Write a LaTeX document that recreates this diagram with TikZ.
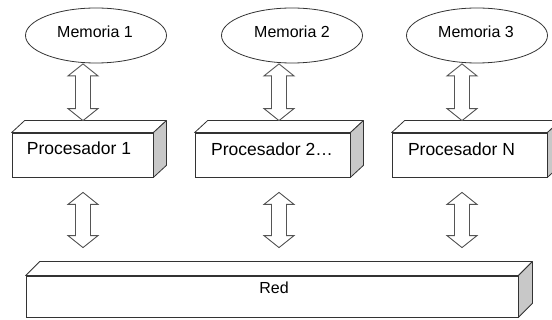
\documentclass[tikz,border=0pt]{standalone}
\usepackage{fontspec}
\setmainfont{Liberation Sans}
\usetikzlibrary{shapes.geometric,calc}
\definecolor{edge}{HTML}{333333}
\definecolor{sideface}{HTML}{C8C8C8}
\definecolor{arrowline}{HTML}{555555}
\tikzset{
  mem/.style={ellipse, draw=edge, line width=0.8pt, minimum width=141pt, minimum height=55pt, inner sep=0pt},
  front/.style={rectangle, draw=edge, fill=white, line width=0.8pt, inner sep=0pt, minimum height=44pt},
  topface/.style={draw=edge, fill=white, line width=0.8pt, line join=round},
  sidefill/.style={draw=edge, fill=sideface, line width=0.8pt, line join=round},
  memtext/.style={inner sep=0pt, font=\fontsize{16}{18}\selectfont},
  proctext/.style={inner sep=0pt, font=\fontsize{17.5}{20}\selectfont},
  biarrow/.style={draw=arrowline, fill=white, line width=0.9pt, line join=miter},
}
% top and right faces of a box whose front face is node #1, depth (#2,#3)
\newcommand\cubefaces[3]{%
  \draw[topface] (#1.north west) -- ++(#2,#3) -- ($(#1.north east)+(#2,#3)$) -- (#1.north east) -- cycle;
  \draw[sidefill] (#1.north east) -- ++(#2,#3) -- ($(#1.south east)+(#2,#3)$) -- (#1.south east) -- cycle;
}
% hollow double-headed block arrow from #1 (upper tip) down to the height of #2
\newcommand\dblarrow[2]{%
  \draw[biarrow] let \p1=(#1), \p2=(#2) in
    (\x1,\y1) -- (\x1+15pt,\y1-12pt) -- (\x1+7.5pt,\y1-12pt) -- (\x1+7.5pt,\y2+12pt)
    -- (\x1+15pt,\y2+12pt) -- (\x1,\y2) -- (\x1-15pt,\y2+12pt) -- (\x1-7.5pt,\y2+12pt)
    -- (\x1-7.5pt,\y1-12pt) -- (\x1-15pt,\y1-12pt) -- cycle;
}
\begin{document}
\begin{tikzpicture}[x=1pt,y=-1pt]
  \useasboundingbox (0,0) rectangle (552,320);

  % memories
  \node[mem] (m1) at (96,35.5) {};
  \node[mem] (m2) at (292,35.5) {};
  \node[mem] (m3) at (477,35.5) {};
  \node[memtext] (m1t) at (95,31.5) {Memoria 1};
  \node[memtext] (m2t) at (292,31.5) {Memoria 2};
  \node[memtext] (m3t) at (476,31.5) {Memoria 3};

  % processors
  \node[front, minimum width=141pt] (p1) at (82.5,155) {};
  \cubefaces{p1}{13}{-12}
  \node[front, minimum width=155pt] (p2) at (272.5,155) {};
  \cubefaces{p2}{13}{-12}
  \node[front, minimum width=155pt] (pn) at (469.5,155) {};
  \cubefaces{pn}{13}{-12}
  \node[proctext] (p1t) at (79,148.5) {Procesador 1};
  \node[proctext] (p2t) at (272,149) {Procesador 2\ldots};
  \node[proctext] (pnt) at (461.5,149) {Procesador N};

  % network
  \node[front, minimum width=492pt, minimum height=41pt] (red) at (272,296.5) {};
  \cubefaces{red}{14}{-14}
  \node[memtext] (redt) at (274,288) {Red};

  % arrow tips
  \coordinate (a1) at ($(m1.south)+(-13,0.5)$);
  \coordinate (a2) at ($(m2.south)+(-13,0.5)$);
  \coordinate (a3) at ($(m3.south)+(-15,0.5)$);

  % memory <-> processor
  \dblarrow{a1}{$(p1.north)+(0,-12)$}
  \dblarrow{a2}{$(p2.north)+(0,-12)$}
  \dblarrow{a3}{$(pn.north)+(0,-12)$}

  % processor <-> network
  \dblarrow{$(a1 |- p1.south)+(0,15)$}{$(red.north)+(0,-28)$}
  \dblarrow{$(a2 |- p2.south)+(0,15)$}{$(red.north)+(0,-28)$}
  \dblarrow{$(a3 |- pn.south)+(0,15)$}{$(red.north)+(0,-28)$}
\end{tikzpicture}
\end{document}
